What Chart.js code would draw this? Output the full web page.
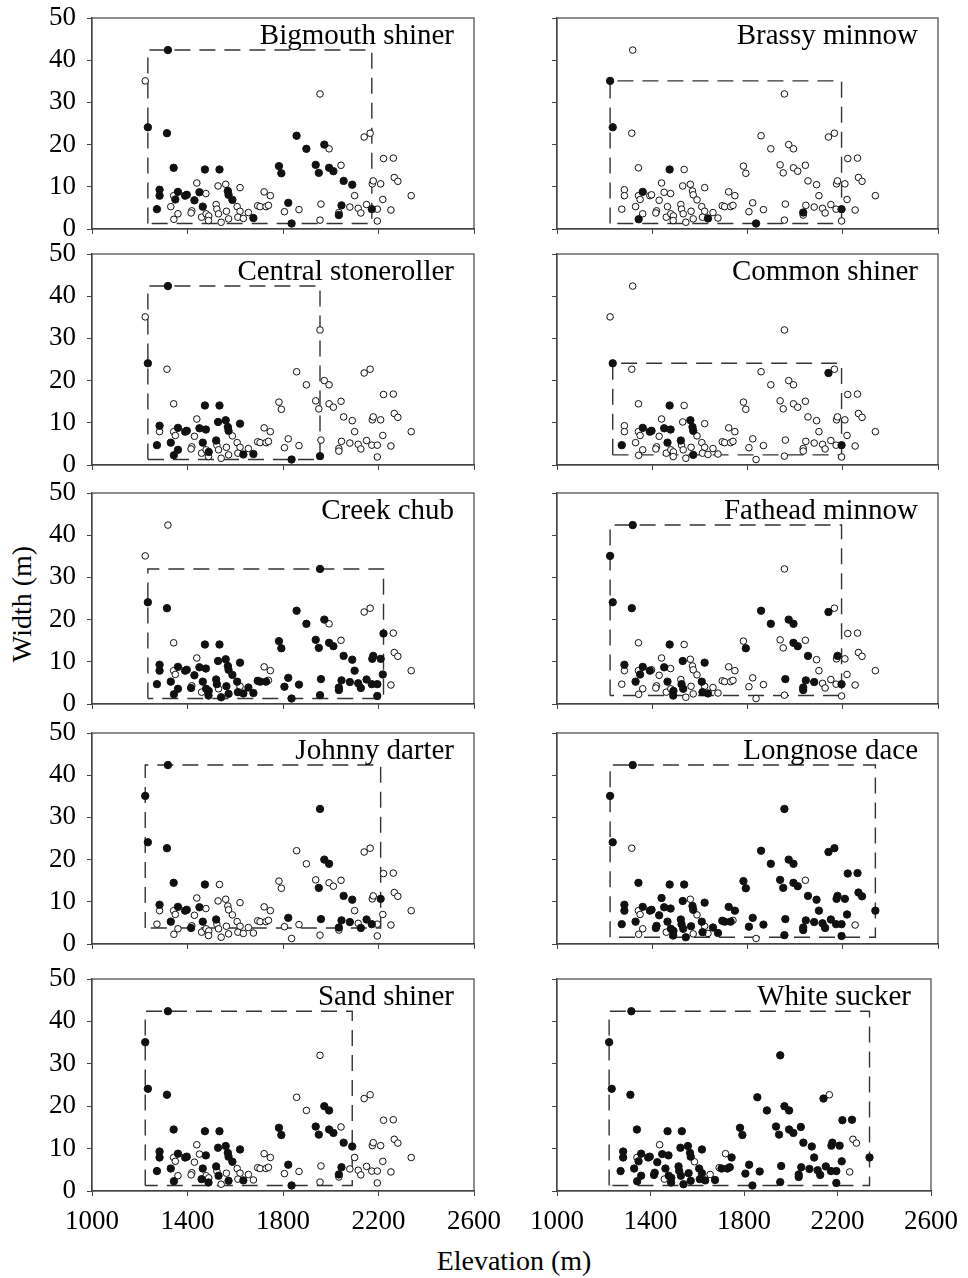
<!DOCTYPE html>
<html>
<head>
<meta charset="utf-8">
<script src="https://cdn.jsdelivr.net/npm/chart.js@4.4.1/dist/chart.umd.min.js"></script>
<style>
  body { margin: 0; background: #fff; width: 968px; height: 1278px; position: relative; overflow: hidden;
         font-family: 'Liberation Serif', 'Times New Roman', serif; color: #000; }
  canvas { position: absolute; }
  #ylab { position: absolute; left: 22px; top: 604px; transform: translate(-50%, -50%) rotate(-90deg);
          font-size: 28px; white-space: nowrap; }
  #xlab { position: absolute; left: 514px; top: 1261px; transform: translate(-50%, -50%);
          font-size: 28px; white-space: nowrap; }
</style>
</head>
<body>
<div id="ylab">Width (m)</div>
<div id="xlab">Elevation (m)</div>

<script>
// sites (same in every panel): id, elevation (m), stream width (m)
const siteIds = ['A','B','C','D','E','F','G','H','I','J','K','L','M','N','O','P','Q','R','S','T','U','V','W','X','Y','Z',
  'AA','AB','AC','AD','AE','AF','AG','AH','AI','AJ','AK','AL','AM','AN','AO','AP','AQ','AR','AS','AT','AU','AV','AW','AX','AY','AZ',
  'BA','BB','BC','BD','BE','BF','BG','BH','BI','BJ','BK','BL','BM','BN','BO','BP','BQ','BR','BS','BT','BU','BV','BW','BX','BY','BZ',
  'CA','CB','CC','CD','CE','CF','CG','CH','CI','CJ','CK','CL','CM','CN','CO','CP','CQ','CR'];
const siteElev = [1318,1223,1955,1234,1314,1857,2140,2165,1898,1973,1993,2221,2262,1342,1473,1534,1783,1793,1937,1950,1993,2011,2043,2266,2281,2054,
  2090,2174,2178,2209,1439,1528,1560,1620,1283,1283,1360,1342,1349,1390,1397,1450,1477,1569,1572,1429,1721,1747,2100,2337,2218,1588,
  1272,1330,1360,1343,1418,1415,1464,1459,1478,1489,1488,1520,1523,1530,1541,1563,1572,1608,1620,1611,1634,1655,1676,1694,1704,1729,
  1739,1822,1806,1836,1867,1955,1959,2034,2045,2034,2080,2115,2126,2150,2172,2195,2195,2252];
const siteWidth = [42.4,35.1,32.0,24.1,22.7,22.1,21.8,22.7,19.0,20.0,19.0,16.7,16.8,14.5,14.1,14.1,14.9,13.2,15.2,13.3,14.5,13.7,15.1,12.2,11.3,11.4,
  10.5,10.7,11.4,10.7,10.9,10.2,10.6,9.8,9.3,7.9,8.8,7.9,7.0,7.9,8.1,8.7,8.4,9.0,8.1,6.8,8.8,7.9,7.9,7.9,7.0,6.9,
  4.7,5.3,3.6,2.3,4.3,3.8,5.3,2.8,3.6,3.1,2.0,5.8,4.7,3.6,1.6,4.2,2.4,5.3,4.2,2.8,2.5,3.9,2.6,5.5,5.3,5.3,
  5.6,6.2,4.1,1.3,4.6,2.1,5.9,3.9,5.6,3.3,5.2,4.9,3.8,5.8,4.7,4.7,1.9,4.5];

const speciesNames = ['Bigmouth shiner','Brassy minnow','Central stoneroller','Common shiner','Creek chub',
  'Fathead minnow','Johnny darter','Longnose dace','Sand shiner','White sucker'];

// sites where each species was caught
const bigmouthPresent = ['A','D','E','N','O','P','AI','AJ','AK','AM','AN','AO','AP','AT','BA','BG','AR','AS','AZ','BW',
  'F','I','J','Q','R','S','T','U','V','Z','AA','CB','CD','CI','CJ','CO'];
const brassyPresent = ['B','D','O','AK','BD','BU','CD','CH','CP'];
const stonerollerPresent = ['A','D','AI','BA','BB','BC','BD','AK','AN','AO','AP','AQ','O','P','BG','BJ','AF','BL','AG',
  'AR','AS','AH','BU','BW','CD','CF'];
const commonPresent = ['D','G','O','AK','AN','AO','AP','AQ','BG','BL','AG','AR','AS','BA','BQ','CP'];
const creekAbsent = ['A','B','N','AE','G','H','K','W','M','X','Y','AX','CR','AL','AM','BE','BH','BN','BS','AU','AV','CA'];
const fatheadPresent = ['A','B','D','E','F','G','I','J','K','O','R','U','V','Z','AC','AI','AK','AM','BB','AN','AP','AF',
  'BG','BM','BJ','BK','BN','AH','BR','BT','BU','CG','CH','CJ','CI','CK','CP'];
const johnnyPresent = ['A','B','D','E','N','O','C','J','K','T','Z','AA','AD','AI','AK','AN','AO','AP','BB','BG','BL','BF',
  'CB','CG','CH','CI','CK','CM','CN','CO'];
const longnoseAbsent = ['E','W','AG','AL','AM','BC','BD','BH','BQ','AZ','BS','BU','CA','CD','CR'];
const sandPresent = ['A','B','D','E','N','O','P','AI','AJ','AK','AN','AO','AQ','AF','AG','AR','AS','AZ','AH','BA','BB',
  'BD','BG','BH','BK','BL','BN','BQ','BU','Q','R','S','T','J','K','U','V','Z','AA','CB','CD','CH','CI'];
const whiteAbsent = ['H','AE','AL','AZ','AU','BX','BV','BH','X','Y','CR'];

const xTicks = [1000, 1400, 1800, 2200, 2600];
const yTicks = [0, 10, 20, 30, 40, 50];

const allExcept = list => siteIds.filter(id => !list.includes(id));
const presentBySpecies = [bigmouthPresent, brassyPresent, stonerollerPresent, commonPresent, allExcept(creekAbsent),
  fatheadPresent, johnnyPresent, allExcept(longnoseAbsent), sandPresent, allExcept(whiteAbsent)];

// plot-area rows (top, bottom) in page pixels
const rows = [[18, 229], [254, 465], [493, 704], [733, 944], [979, 1191]];
const FONT = "'Liberation Serif', 'Times New Roman', serif";

const panelPlugin = {
    id: 'panelDeco',
    afterDraw(chart) {
        const { ctx, chartArea: a } = chart;
        ctx.save();
        ctx.strokeStyle = '#444';
        ctx.lineWidth = 1.2;
        ctx.strokeRect(a.left, a.top, a.right - a.left, a.bottom - a.top);
        ctx.fillStyle = '#000';
        ctx.font = '29px ' + FONT;
        ctx.textAlign = 'right';
        ctx.textBaseline = 'alphabetic';
        ctx.fillText(chart.options.plugins.panelDeco.title, a.right - 20, a.top + 26);
        ctx.restore();
    }
};

function makePanel(i) {
    const col = i % 2, row = Math.floor(i / 2);
    const plotLeft = col === 0 ? 92 : 557;
    const plotRight = col === 0 ? 474 : 938;
    const [plotTop, plotBottom] = rows[row];
    const canvasLeft = col === 0 ? 0 : 500;
    const canvasW = col === 0 ? 530 : 468;
    const padTop = 30, xAxisH = 50;
    const canvasH = plotBottom - plotTop + padTop + xAxisH;

    const canvas = document.createElement('canvas');
    canvas.width = canvasW;
    canvas.height = canvasH;
    canvas.style.left = canvasLeft + 'px';
    canvas.style.top = (plotTop - padTop) + 'px';
    document.body.appendChild(canvas);

    const present = presentBySpecies[i];
    const filled = [], open = [];
    siteIds.forEach((id, k) => {
        const p = { x: siteElev[k], y: siteWidth[k] };
        (present.includes(id) ? filled : open).push(p);
    });
    // dashed box = range of sites where the species occurs
    const xs = filled.map(p => p.x), ys = filled.map(p => p.y);
    const x0 = Math.min(...xs), x1 = Math.max(...xs), y0 = Math.min(...ys), y1 = Math.max(...ys);
    const box = [{x: x0, y: y0}, {x: x0, y: y1}, {x: x1, y: y1}, {x: x1, y: y0}, {x: x0, y: y0}];

    new Chart(canvas, {
        type: 'scatter',
        data: {
            datasets: [
                { data: filled, pointRadius: 3.7, backgroundColor: '#111', borderColor: '#111', borderWidth: 1 },
                { data: open, pointRadius: 3.3, backgroundColor: '#fff', borderColor: '#111', borderWidth: 1 },
                { data: box, showLine: true, pointRadius: 0, borderColor: '#333', borderWidth: 1.4,
                  borderDash: [16, 9], fill: false, tension: 0 }
            ]
        },
        options: {
            responsive: false,
            animation: false,
            events: [],
            layout: { padding: { left: 0, top: padTop, right: canvasLeft + canvasW - plotRight, bottom: 0 } },
            scales: {
                x: {
                    type: 'linear', min: 1000, max: 2600,
                    afterBuildTicks: s => { s.ticks = xTicks.map(v => ({ value: v })); },
                    afterFit: s => { s.height = xAxisH; },
                    ticks: { display: row === 4, color: '#000', padding: 10, callback: v => String(v),
                             font: { family: FONT, size: 27 } },
                    grid: { drawOnChartArea: false, tickLength: 5, color: '#444' },
                    border: { color: '#444', width: 1.2 }
                },
                y: {
                    min: 0, max: 50,
                    afterBuildTicks: s => { s.ticks = yTicks.map(v => ({ value: v })); },
                    afterFit: s => { s.width = plotLeft - canvasLeft; },
                    ticks: { display: col === 0, color: '#000', padding: 11, callback: v => String(v),
                             font: { family: FONT, size: 27 } },
                    grid: { drawOnChartArea: false, tickLength: 5, color: '#444' },
                    border: { color: '#444', width: 1.2 }
                }
            },
            plugins: {
                legend: { display: false },
                tooltip: { enabled: false },
                panelDeco: { title: speciesNames[i] }
            }
        },
        plugins: [panelPlugin]
    });
}

speciesNames.forEach((_, i) => makePanel(i));
</script>
</body>
</html>
